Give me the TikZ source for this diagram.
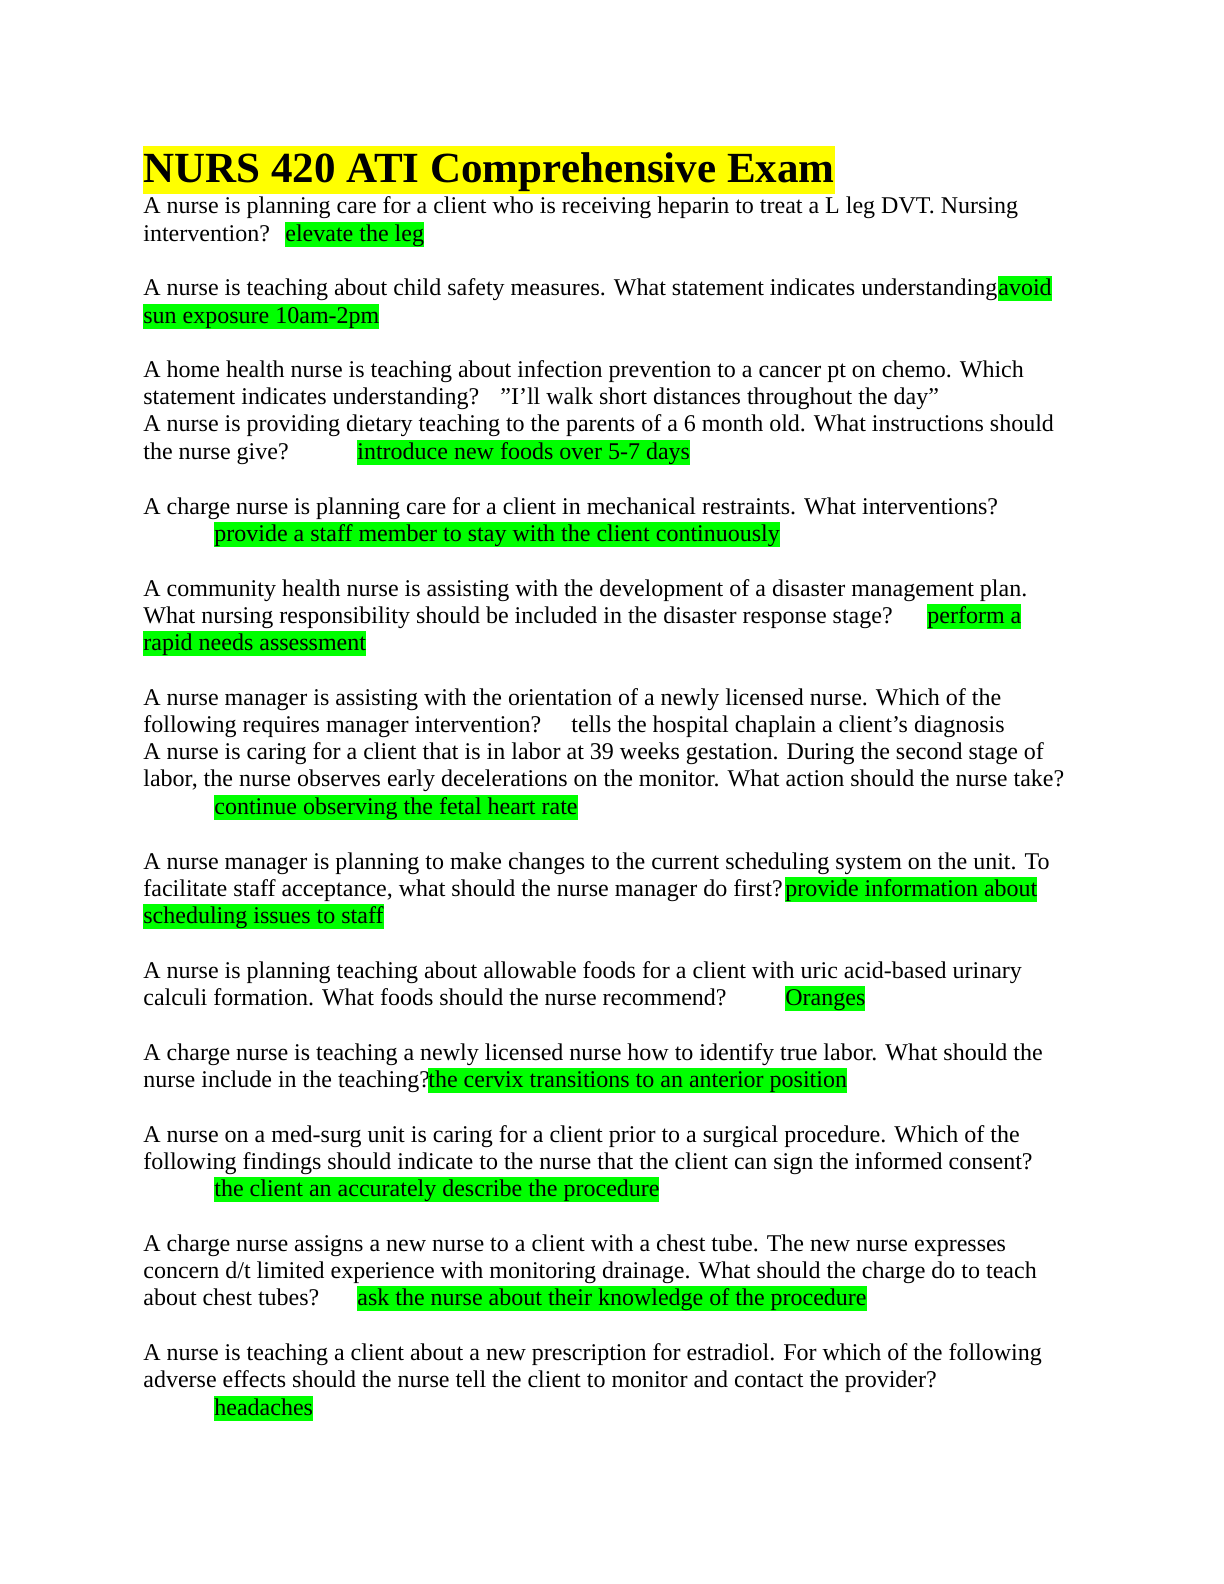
\documentclass[tikz,border=0pt]{standalone}
\usepackage{fontspec}
\setmainfont{Liberation Serif}
\definecolor{hlg}{HTML}{00FF00}
\definecolor{hly}{HTML}{FFFF00}
\newcommand{\hbx}[2]{{\setlength{\fboxsep}{0pt}\colorbox{#1}{\rule[-3.2pt]{0pt}{12.6pt}#2}}}
\newcommand{\Ln}[3]{\node[txt] (#1) at (143,#2) {#3};}
\newcommand{\Hn}[4]{\node[txt] (#1) at (#2,#3) {\hbx{hlg}{#4}};}
\newcommand{\Tn}[4]{\node[txt] (#1) at (#2,#3) {#4};}
\begin{document}
\begin{tikzpicture}[x=0.5pt,y=-0.5pt,txt/.style={anchor=base west,inner sep=0pt,font=\fontsize{12pt}{14pt}\selectfont}]
\useasboundingbox (0,0) rectangle (1224,1584);
\node[anchor=base west,inner sep=0pt,font=\fontsize{21.5pt}{24pt}\selectfont\bfseries] (title) at (143,183) {{\setlength{\fboxsep}{0pt}\colorbox{hly}{\rule[-5.5pt]{0pt}{24pt}NURS 420 ATI Comprehensive Exam}}};
\Ln{a1}{213}{A nurse is planning care for a client who is receiving heparin to treat a L leg DVT. Nursing}
\Ln{a2}{241}{intervention?}\Hn{a3}{285}{241}{elevate the leg}
\Ln{b1}{295}{A nurse is teaching about child safety measures. What statement indicates understanding?}\Hn{b2}{998}{295}{avoid}
\Hn{b3}{143}{323}{sun exposure 10am-2pm}
\Ln{c1}{377}{A home health nurse is teaching about infection prevention to a cancer pt on chemo. Which}
\Ln{c2}{404}{statement indicates understanding?}\Tn{c3}{500}{404}{"I'll walk short distances throughout the day"}
\Ln{d1}{431}{A nurse is providing dietary teaching to the parents of a 6 month old. What instructions should}
\Ln{d2}{459}{the nurse give?}\Hn{d3}{357}{459}{introduce new foods over 5-7 days}
\Ln{e1}{514}{A charge nurse is planning care for a client in mechanical restraints. What interventions?}
\Hn{e2}{214}{541}{provide a staff member to stay with the client continuously}
\Ln{f1}{596}{A community health nurse is assisting with the development of a disaster management plan.}
\Ln{f2}{623}{What nursing responsibility should be included in the disaster response stage?}\Hn{f3}{927}{623}{perform a}
\Hn{f4}{143}{650}{rapid needs assessment}
\Ln{g1}{705}{A nurse manager is assisting with the orientation of a newly licensed nurse. Which of the}
\Ln{g2}{732}{following requires manager intervention?}\Tn{g3}{571}{732}{tells the hospital chaplain a client's diagnosis}
\Ln{h1}{759}{A nurse is caring for a client that is in labor at 39 weeks gestation. During the second stage of}
\Ln{h2}{786}{labor, the nurse observes early decelerations on the monitor. What action should the nurse take?}
\Hn{h3}{214}{814}{continue observing the fetal heart rate}
\Ln{i1}{869}{A nurse manager is planning to make changes to the current scheduling system on the unit. To}
\Ln{i2}{896}{facilitate staff acceptance, what should the nurse manager do first?}\Hn{i3}{785}{896}{provide information about}
\Hn{i4}{143}{923}{scheduling issues to staff}
\Ln{j1}{978}{A nurse is planning teaching about allowable foods for a client with uric acid-based urinary}
\Ln{j2}{1005}{calculi formation. What foods should the nurse recommend?}\Hn{j3}{785}{1005}{Oranges}
\Ln{k1}{1060}{A charge nurse is teaching a newly licensed nurse how to identify true labor. What should the}
\Ln{k2}{1087}{nurse include in the teaching?}\Hn{k3}{428}{1087}{the cervix transitions to an anterior position}
\Ln{l1}{1142}{A nurse on a med-surg unit is caring for a client prior to a surgical procedure. Which of the}
\Ln{l2}{1169}{following findings should indicate to the nurse that the client can sign the informed consent?}
\Hn{l3}{214}{1196}{the client an accurately describe the procedure}
\Ln{m1}{1251}{A charge nurse assigns a new nurse to a client with a chest tube. The new nurse expresses}
\Ln{m2}{1278}{concern d/t limited experience with monitoring drainage. What should the charge do to teach}
\Ln{m3}{1305}{about chest tubes?}\Hn{m4}{357}{1305}{ask the nurse about their knowledge of the procedure}
\Ln{n1}{1360}{A nurse is teaching a client about a new prescription for estradiol. For which of the following}
\Ln{n2}{1387}{adverse effects should the nurse tell the client to monitor and contact the provider?}
\Hn{n3}{214}{1415}{headaches}
\end{tikzpicture}
\end{document}
